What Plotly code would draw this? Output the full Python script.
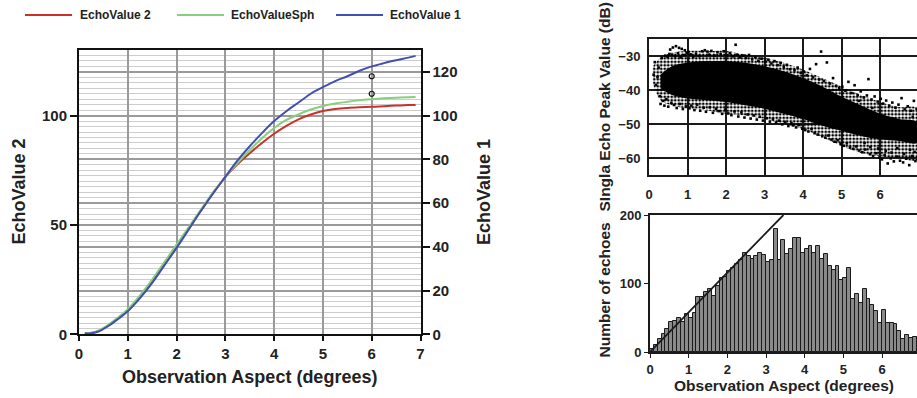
import plotly.graph_objects as go

# ---------------- Left panel data ----------------
aspect = [0.12, 0.25, 0.4, 0.6, 0.8, 1.0, 1.25, 1.5, 1.75, 2.0, 2.25, 2.5, 2.75, 3.0, 3.25,
          3.5, 3.75, 4.0, 4.25, 4.5, 4.75, 5.0, 5.25, 5.5, 5.75, 6.0, 6.25, 6.5, 6.75, 6.9]
echo_value_2 = [0.5, 0.6, 1.5, 4.0, 7.3, 11, 17, 24, 32, 40, 48.5, 56.5, 64.5, 72, 77.8,
                82.8, 87.5, 91.7, 95.3, 98.3, 100.5, 102.1, 103, 103.5, 103.8, 104, 104.3, 104.6, 104.8, 104.9]
echo_value_sph = [0.5, 0.7, 1.7, 4.3, 7.7, 11.5, 17.8, 25, 33, 41, 49, 57, 65, 72, 78.3,
                  84.2, 89.6, 94.3, 98, 100.6, 102.8, 104.4, 105.5, 106.3, 107, 107.5, 107.9, 108.2, 108.4, 108.5]
echo_value_1 = [0.4, 0.5, 1.3, 3.8, 7.0, 10.5, 16.5, 23.5, 31.5, 39.5, 48, 56.5, 64.5, 72, 79.5,
                86, 92, 97.5, 102, 106, 110, 113, 115.8, 118, 120.5, 122.5, 124, 125.3, 126.5, 127.3]
marker_x = [6, 6]
marker_y = [118, 110]
series_names = ["EchoValue 2", "EchoValueSph", "EchoValue 1"]
series_colors = ["#c8322b", "#86cf7c", "#4150b0"]

# ---------------- Scatter panel data ----------------
halo_x = [0.1, 0.3, 0.6, 1.0, 1.5, 2.0, 2.5, 3.0, 3.5, 4.0, 4.5, 5.0, 5.5, 6.0, 6.5, 6.97]
halo_upper = [-33, -30.5, -29, -28.5, -28.5, -28.5, -29.5, -30.5, -32, -34, -36.5, -39, -41.5, -43.5, -45, -45.5]
halo_lower = [-38, -43, -44.5, -45.5, -46, -47, -47.5, -48.5, -50, -51.5, -54, -56.5, -58.5, -59.5, -60, -60.5]
core_x = [0.3, 0.6, 1.0, 1.5, 2.0, 2.5, 3.0, 3.5, 4.0, 4.5, 5.0, 5.5, 6.0, 6.5, 6.97]
core_upper = [-35.5, -33, -32, -31.5, -31.5, -32, -33, -34.5, -36.5, -39, -42, -44.5, -47, -48.5, -49.5]
core_lower = [-39.5, -41.5, -42.5, -43, -43.5, -44.5, -45.5, -47, -48.5, -50.5, -52, -53.5, -54.5, -55, -55.5]

scatter_x = [0.12, 0.15, 0.18, 0.22, 0.25, 0.28, 0.3, 0.33, 0.36, 0.4, 0.42, 0.45, 0.48, 0.5, 0.53, 0.55, 0.58,
             0.6, 0.62, 0.65, 0.68, 0.7, 0.72, 0.75, 0.78, 0.8, 0.82, 0.85, 0.88, 0.9, 0.93, 0.96, 0.98,
             1.02, 1.05, 1.08, 1.1, 1.15, 1.18, 1.22, 1.25, 1.3, 1.33, 1.38, 1.42, 1.45, 1.48, 1.52, 1.55,
             1.58, 1.62, 1.66, 1.7, 1.74, 1.78, 1.82, 1.86, 1.9, 1.94, 1.98,
             2.02, 2.06, 2.1, 2.14, 2.18, 2.22, 2.25, 2.28, 2.32, 2.36, 2.4, 2.44, 2.48, 2.52, 2.56, 2.6,
             2.64, 2.68, 2.72, 2.76, 2.8, 2.84, 2.88, 2.92, 2.96,
             3.02, 3.06, 3.1, 3.14, 3.18, 3.22, 3.26, 3.3, 3.34, 3.38, 3.42, 3.46, 3.5, 3.54, 3.58, 3.62,
             3.66, 3.7, 3.74, 3.78, 3.82, 3.86, 3.9, 3.94, 3.98,
             4.02, 4.06, 4.1, 4.14, 4.18, 4.22, 4.26, 4.3, 4.34, 4.38, 4.42, 4.47, 4.5, 4.54, 4.58, 4.62,
             4.66, 4.7, 4.74, 4.78, 4.82, 4.86, 4.9, 4.94, 4.98,
             5.02, 5.06, 5.1, 5.14, 5.18, 5.22, 5.26, 5.3, 5.34, 5.38, 5.42, 5.46, 5.5, 5.54, 5.58, 5.62,
             5.66, 5.7, 5.74, 5.78, 5.82, 5.86, 5.9, 5.94, 5.98,
             6.02, 6.05, 6.08, 6.12, 6.16, 6.2, 6.24, 6.28, 6.32, 6.36, 6.4, 6.44, 6.48, 6.52, 6.56, 6.6,
             6.64, 6.68, 6.72, 6.76, 6.8, 6.84, 6.88, 6.92, 6.95,
             5.6, 5.75, 5.95, 6.15, 6.3, 6.45, 6.62, 6.78, 6.9, 6.1, 6.35, 6.6, 6.85, 5.8, 5.45]
scatter_y = [-35.5, -31.8, -38.5, -36.2, -33.4, -41.8, -44.1, -30.6, -43.2, -44.6, -29.9, -42.7, -30.2, -44.9, -29.4, -28.1, -43.8,
             -29.6, -27.5, -44.4, -30.1, -27.1, -45.3, -29.2, -27.6, -44.1, -30.4, -27.9, -45.6, -29.7, -28.3, -44.8, -29.1,
             -28.8, -45.4, -29.5, -44.6, -30.2, -45.9, -29.3, -44.3, -30.0, -46.1, -28.6, -45.2, -28.3, -46.4, -28.7, -29.6,
             -45.1, -28.5, -46.7, -29.9, -45.5, -28.9, -46.2, -29.4, -47.0, -28.6, -45.8,
             -29.8, -46.9, -29.2, -47.4, -30.1, -46.3, -26.7, -29.6, -47.8, -30.4, -46.6, -29.9, -48.1, -30.6, -47.2, -29.7,
             -48.4, -31.0, -47.5, -30.3, -48.7, -31.4, -47.9, -30.8, -49.0,
             -31.6, -48.3, -31.1, -49.3, -32.2, -48.6, -31.5, -49.6, -32.7, -49.0, -32.0, -50.1, -33.3, -49.4, -32.6, -50.6,
             -33.9, -49.8, -50.4, -34.2, -51.0, -33.4, -50.3, -35.0, -51.4,
             -34.6, -51.8, -35.7, -52.2, -33.8, -51.5, -36.3, -52.7, -32.4, -53.1, -36.9, -28.7, -53.6, -37.4, -54.0, -31.9,
             -53.4, -38.1, -54.6, -36.5, -55.2, -38.8, -54.8, -39.4, -55.9,
             -39.0, -56.4, -40.2, -55.7, -37.6, -56.9, -40.9, -57.3, -38.6, -56.6, -41.5, -57.8, -40.4, -58.3, -42.2, -57.5,
             -41.6, -36.8, -58.9, -42.8, -59.4, -41.9, -58.6, -43.4, -59.9,
             -42.6, -60.4, -44.0, -59.2, -43.1, -61.6, -44.6, -60.1, -43.7, -61.0, -45.2, -59.6, -44.3, -60.8, -42.4, -61.3,
             -45.7, -60.2, -44.8, -62.1, -46.1, -59.4, -43.2, -60.9, -45.5,
             -55.6, -56.8, -57.2, -57.9, -58.4, -57.1, -58.8, -57.6, -58.2, -47.6, -48.4, -49.6, -47.9, -45.3, -43.2]

# ---------------- Histogram panel data ----------------
bin_width = 0.1
hist_counts = [5, 10, 19, 27, 34, 44, 45, 49, 44, 56,
               50, 57, 81, 81, 87, 92, 82, 97, 108, 110,
               118, 122, 128, 134, 145, 140, 136, 140, 144, 142,
               132, 135, 180, 134, 164, 143, 150, 167, 166, 145,
               150, 155, 145, 155, 136, 143, 126, 119, 125, 105,
               108, 123, 78, 85, 72, 92, 77, 69, 60, 43,
               62, 43, 43, 41, 30, 19, 25, 20, 22, 22]
hist_centers = [round(bin_width * (i + 0.5), 3) for i in range(len(hist_counts))]
ref_line_x = [0, 3.45]
ref_line_y = [0, 200]

W, H = 917, 398
def px(x): return x / W
def py(y): return 1 - y / H

FONT = "Liberation Sans, Arial, sans-serif"
TXT = "#222222"
bold = lambda s: dict(family=FONT, size=s, color=TXT, weight="bold")

fig = go.Figure()

# left panel lines
for name, vals, col in zip(series_names, [echo_value_2, echo_value_sph, echo_value_1], series_colors):
    fig.add_trace(go.Scatter(x=aspect, y=vals, mode="lines", name=name, line=dict(color=col, width=2),
                             line_shape="spline", xaxis="x", yaxis="y", showlegend=False))
fig.add_trace(go.Scatter(x=marker_x, y=marker_y, mode="markers", xaxis="x", yaxis="y2", showlegend=False,
                         marker=dict(symbol="circle-open", size=5, color="#111111", line=dict(width=1.2))))

# scatter panel
fig.add_trace(go.Scatter(x=halo_x + halo_x[::-1], y=halo_upper + halo_lower[::-1], fill="toself",
                         fillcolor="rgba(0,0,0,0)",
                         fillpattern=dict(shape=".", fgcolor="#000000", bgcolor="rgba(255,255,255,0)",
                                          size=3.5, solidity=0.5),
                         line=dict(width=0, shape="spline"), mode="lines",
                         xaxis="x3", yaxis="y3", showlegend=False, hoverinfo="skip"))
fig.add_trace(go.Scatter(x=core_x + core_x[::-1], y=core_upper + core_lower[::-1], fill="toself",
                         fillcolor="#000000", line=dict(width=0, shape="spline"), mode="lines",
                         xaxis="x3", yaxis="y3", showlegend=False, hoverinfo="skip"))
fig.add_trace(go.Scatter(x=scatter_x, y=scatter_y, mode="markers", xaxis="x3", yaxis="y3", showlegend=False,
                         marker=dict(symbol="square", size=2.6, color="#000000", line=dict(width=0))))

# histogram panel
fig.add_trace(go.Bar(x=hist_centers, y=hist_counts, width=bin_width, xaxis="x4", yaxis="y4", showlegend=False,
                     marker=dict(color="#8a8a8a", line=dict(color="#1a1a1a", width=1))))
fig.add_trace(go.Scatter(x=ref_line_x, y=ref_line_y, mode="lines", line=dict(color="#1a1a1a", width=1.8),
                         xaxis="x4", yaxis="y4", showlegend=False, cliponaxis=True))

grid_c = "#9a9a9a"
common = dict(automargin=False, zeroline=False)
fig.update_layout(
    template="none",
    width=W, height=H, margin=dict(l=0, r=0, t=0, b=0, autoexpand=False),
    paper_bgcolor="white", plot_bgcolor="white", bargap=0, showlegend=False,
    xaxis=dict(domain=[px(79), px(420.5)], anchor="y", range=[0, 7], dtick=1, showgrid=True, gridcolor=grid_c,
               gridwidth=1.6, showline=True, linecolor="#111", linewidth=2, mirror=True,
               ticks="outside", ticklen=5, tickcolor="#111", tickwidth=1.5, tickfont=bold(15), **common),
    yaxis=dict(domain=[py(334.3), py(50)], anchor="x", range=[0, 130], tickvals=[0, 50, 100], showgrid=True,
               gridcolor=grid_c, gridwidth=1.6, showline=True, linecolor="#111", linewidth=2,
               mirror=True, ticks="outside", ticklen=7, tickcolor="#111", tickwidth=1.5, tickfont=bold(15),
               minor=dict(dtick=2.5, tick0=0, showgrid=True, gridcolor="#cdcdcd", gridwidth=1, ticks=""),
               **common),
    yaxis2=dict(overlaying="y", anchor="x", side="right", range=[0, 130], dtick=20, showgrid=True,
                gridcolor=grid_c, gridwidth=1.6, showline=True, linecolor="#111", linewidth=2,
                ticks="outside", ticklen=7, tickcolor="#111", tickwidth=1.5, tickfont=bold(15), **common),
    xaxis3=dict(domain=[px(649), 1.0], anchor="y3", range=[0, (917 - 649) / 38.5], dtick=1, showgrid=True,
                gridcolor="#1a1a1a", gridwidth=2, showline=True, linecolor="#1a1a1a",
                linewidth=2, mirror=True, ticks="", ticklabelstandoff=6, tickfont=bold(13), **common),
    yaxis3=dict(domain=[py(175), py(39)], anchor="x3", range=[-65, -25], tickvals=[-30, -40, -50, -60],
                showgrid=True, gridcolor="#1a1a1a", gridwidth=2, showline=True,
                linecolor="#1a1a1a", linewidth=2, ticks="", ticklabelstandoff=4, tickfont=bold(13), **common),
    xaxis4=dict(domain=[px(650), 1.0], anchor="y4", range=[0, (917 - 650) / 38.67], dtick=1, showgrid=False,
                showline=True, linecolor="#1a1a1a", linewidth=2, mirror=True,
                ticks="outside", ticklen=4, tickcolor="#1a1a1a", tickfont=bold(13), **common),
    yaxis4=dict(domain=[py(352), py(215)], anchor="x4", range=[0, 200], dtick=100, showgrid=False,
                showline=True, linecolor="#1a1a1a", linewidth=2,
                ticks="outside", ticklen=4, tickcolor="#1a1a1a", tickfont=bold(13), **common),
)

# manual legend
legend_items = [(25, 72, 78), (177, 224, 229), (336, 383, 388)]
shapes = []
annotations = []
for (x0, x1, tx), name, col in zip(legend_items, series_names, series_colors):
    shapes.append(dict(type="line", xref="paper", yref="paper", x0=px(x0), x1=px(x1), y0=py(15), y1=py(15),
                       line=dict(color=col, width=2)))
    annotations.append(dict(text=name, xref="paper", yref="paper", x=px(tx), y=py(15), xanchor="left",
                            yanchor="middle", showarrow=False, font=bold(12)))

titles = [
    ("Observation Aspect (degrees)", 249.5, 377, 0, 18),
    ("EchoValue 2", 18.5, 192, -90, 18),
    ("EchoValue 1", 484, 192, -90, 18),
    ("SIngla Echo Peak Value (dB)", 603.5, 107, -90, 15.5),
    ("Number of echoes", 603.5, 290, -90, 15.5),
    ("Observation Aspect (degrees)", 784, 385, 0, 15.5),
]
for t, x, y, ang, s in titles:
    annotations.append(dict(text=t, xref="paper", yref="paper", x=px(x), y=py(y), xanchor="center",
                            yanchor="middle", textangle=ang, showarrow=False, font=bold(s)))

fig.update_layout(shapes=shapes, annotations=annotations)
fig.write_html("out.html", config={"displayModeBar": False},
               post_script="document.body.style.margin='0';document.body.style.overflow='hidden';")
